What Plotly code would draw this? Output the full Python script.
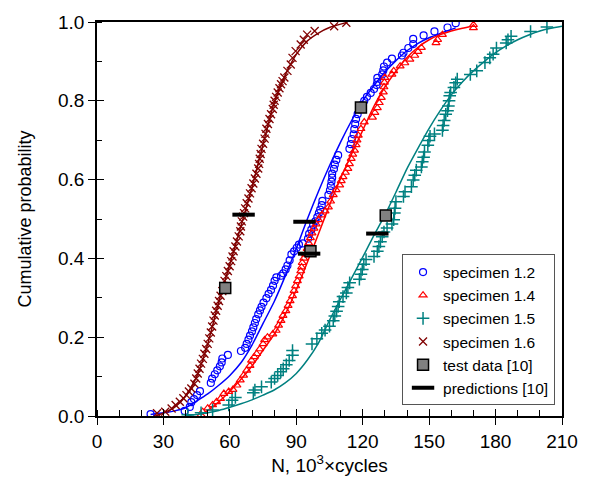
import plotly.graph_objects as go

# ---------------- data ----------------
# specimen 1.2 (blue circles)
x12 = [24.2, 39.6, 41.9, 42.6, 43.8, 45.2, 46.5, 51.4, 52.0, 53.2, 54.3, 55.5, 56.3, 56.6, 59.1,
       65.0, 66.9, 67.6, 68.4, 69.1, 70.0, 70.6, 71.3, 71.9, 72.8, 73.6, 74.3, 75.2, 76.5, 77.5,
       78.6, 79.5, 80.2, 81.0, 83.1, 84.1, 85.2, 86.0, 87.0, 87.8, 89.0, 90.2, 91.2, 93.0, 95.3,
       95.8, 96.8, 97.6, 98.6, 99.5, 100.2, 100.8, 101.5, 101.8, 104.5, 105.2, 105.6, 105.9, 106.2,
       106.2, 107.0, 107.4, 108.1, 108.9, 114.0, 114.6, 115.1, 115.9, 116.2, 116.6, 117.0, 117.7,
       118.5, 119.5, 120.7, 121.9, 123.6, 125.1, 126.3, 126.6, 126.6, 128.8, 129.3, 129.6, 131.0,
       133.2, 137.7, 138.4, 140.6, 142.8, 142.8, 147.5, 152.4, 158.3, 162.0]
y12 = [0.005, 0.013, 0.023, 0.035, 0.043, 0.053, 0.063, 0.084, 0.095, 0.106, 0.116, 0.126, 0.136,
       0.146, 0.155, 0.165, 0.173, 0.183, 0.194, 0.204, 0.215, 0.225, 0.236, 0.246, 0.258, 0.268,
       0.277, 0.288, 0.299, 0.310, 0.320, 0.331, 0.343, 0.352, 0.356, 0.362, 0.372, 0.382, 0.395,
       0.410, 0.418, 0.427, 0.435, 0.438, 0.450, 0.462, 0.473, 0.484, 0.494, 0.505, 0.515, 0.524,
       0.535, 0.546, 0.561, 0.573, 0.584, 0.595, 0.605, 0.615, 0.627, 0.638, 0.650, 0.662, 0.678,
       0.690, 0.703, 0.715, 0.728, 0.741, 0.754, 0.766, 0.778, 0.789, 0.800, 0.810, 0.820, 0.830,
       0.840, 0.848, 0.858, 0.867, 0.877, 0.887, 0.897, 0.907, 0.915, 0.922, 0.934, 0.944, 0.957,
       0.966, 0.976, 0.986, 0.997]
fit12_x = [24.2, 30, 35, 40, 45, 50, 55, 60, 65, 70, 75, 80, 85, 90, 95, 100, 105, 110, 115, 120,
           125, 130, 135, 140, 145, 150, 155, 162]
fit12_y = [0.004, 0.008, 0.013, 0.021, 0.038, 0.056, 0.078, 0.103, 0.135, 0.18, 0.235, 0.29, 0.355,
           0.425, 0.5, 0.57, 0.635, 0.695, 0.75, 0.8, 0.838, 0.873, 0.902, 0.927, 0.946, 0.96,
           0.971, 0.985]

# specimen 1.4 (red triangles)
x14 = [47.0, 47.7, 50.0, 52.2, 54.0, 55.8, 57.3, 59.5, 61.4, 63.2, 64.7, 66.2, 67.6, 69.1, 69.8,
       71.0, 72.1, 73.5, 75.0, 75.7, 77.0, 79.4, 80.9, 82.0, 83.1, 84.0, 85.3, 86.3, 87.2, 88.3,
       89.0, 89.7, 90.5, 91.3, 92.0, 92.4, 92.7, 93.4, 94.2, 94.9, 95.6, 96.4, 97.1, 98.0, 99.0,
       100.0, 101.5, 103.0, 104.5, 105.5, 106.7, 108.0, 109.6, 110.3, 111.1, 112.2, 113.3, 114.0,
       114.8, 115.5, 116.3, 117.0, 117.4, 118.0, 119.2, 120.7, 124.4, 125.5, 126.6, 127.5, 128.4,
       129.3, 129.6, 129.8, 130.0, 133.2, 134.0, 136.9, 139.0, 141.3, 143.5, 145.0, 146.5, 153.1,
       153.8, 156.0, 170.0, 170.0]
y14 = [0.003, 0.011, 0.020, 0.028, 0.036, 0.044, 0.057, 0.062, 0.067, 0.078, 0.091, 0.103, 0.116,
       0.128, 0.141, 0.150, 0.158, 0.170, 0.183, 0.193, 0.200, 0.208, 0.217, 0.230, 0.242, 0.255,
       0.267, 0.280, 0.292, 0.305, 0.318, 0.330, 0.343, 0.355, 0.368, 0.378, 0.389, 0.400, 0.410,
       0.425, 0.439, 0.452, 0.464, 0.476, 0.487, 0.498, 0.510, 0.520, 0.530, 0.545, 0.561, 0.574,
       0.586, 0.597, 0.607, 0.618, 0.628, 0.640, 0.653, 0.664, 0.674, 0.688, 0.700, 0.712, 0.729,
       0.746, 0.758, 0.770, 0.782, 0.795, 0.808, 0.822, 0.835, 0.847, 0.859, 0.867, 0.876, 0.888,
       0.896, 0.905, 0.915, 0.925, 0.935, 0.947, 0.955, 0.968, 0.985, 0.993]
fit14_x = [47, 50, 55, 60, 65, 70, 75, 80, 85, 90, 95, 100, 105, 110, 115, 120, 125, 130, 135,
           140, 145, 150, 155, 160, 165, 170]
fit14_y = [0.003, 0.014, 0.036, 0.063, 0.093, 0.127, 0.167, 0.207, 0.258, 0.32, 0.39, 0.462, 0.535,
           0.603, 0.665, 0.725, 0.785, 0.835, 0.875, 0.91, 0.936, 0.955, 0.968, 0.977, 0.984, 0.99]

# specimen 1.5 (teal plus)
x15 = [41.0, 47.0, 52.2, 59.5, 61.0, 62.5, 70.6, 71.3, 74.3, 78.7, 80.2, 81.6, 83.0, 84.1, 85.5,
       86.8, 88.3, 88.3, 97.1, 99.3, 101.5, 103.0, 105.0, 106.7, 107.4, 108.2, 108.9, 109.4, 111.1,
       112.6, 113.3, 114.1, 118.5, 119.2, 119.8, 120.5, 121.5, 125.1, 126.6, 127.3, 128.0, 128.8,
       129.6, 131.0, 133.2, 134.0, 134.3, 134.6, 135.0, 138.4, 139.1, 142.0, 142.8, 143.5, 144.2,
       146.5, 146.9, 147.5, 147.9, 149.4, 149.9, 150.4, 152.4, 156.0, 156.3, 156.8, 157.5, 158.3,
       158.7, 159.0, 159.3, 159.7, 161.2, 162.0, 162.7, 168.6, 171.5, 175.2, 177.4, 178.9, 180.4,
       184.8, 185.6, 187.0, 195.8, 203.2]
y15 = [0.003, 0.008, 0.015, 0.028, 0.040, 0.047, 0.059, 0.066, 0.074, 0.086, 0.095, 0.103, 0.112,
       0.120, 0.130, 0.141, 0.154, 0.166, 0.183, 0.196, 0.210, 0.218, 0.228, 0.242, 0.254, 0.266,
       0.278, 0.290, 0.303, 0.312, 0.326, 0.338, 0.347, 0.360, 0.372, 0.385, 0.397, 0.405, 0.418,
       0.430, 0.442, 0.455, 0.467, 0.477, 0.487, 0.498, 0.515, 0.527, 0.544, 0.557, 0.569, 0.582,
       0.599, 0.611, 0.624, 0.632, 0.645, 0.657, 0.670, 0.687, 0.699, 0.710, 0.716, 0.725, 0.737,
       0.750, 0.766, 0.775, 0.787, 0.800, 0.813, 0.821, 0.834, 0.846, 0.855, 0.867, 0.876, 0.897,
       0.909, 0.918, 0.934, 0.947, 0.955, 0.964, 0.976, 0.987]
fit15_x = [39.6, 45, 50, 55, 60, 65, 70, 75, 80, 85, 90, 95, 100, 105, 110, 115, 120, 125, 130,
           135, 140, 145, 150, 155, 160, 165, 170, 175, 180, 185, 190, 195, 200, 205, 210]
fit15_y = [0.0, 0.004, 0.008, 0.014, 0.022, 0.031, 0.041, 0.053, 0.066, 0.084, 0.108, 0.142, 0.185,
           0.243, 0.297, 0.35, 0.403, 0.458, 0.51, 0.568, 0.628, 0.68, 0.73, 0.775, 0.815, 0.848,
           0.876, 0.9, 0.922, 0.94, 0.955, 0.967, 0.977, 0.984, 0.989]

# specimen 1.6 (dark red crosses)
x16 = [27.1, 30.8, 33.7, 35.5, 37.4, 39.0, 40.4, 41.5, 42.6, 44.0, 44.8, 45.5, 46.3, 47.0, 47.8,
       48.5, 49.3, 50.0, 50.7, 51.4, 52.0, 52.6, 53.2, 53.8, 54.5, 55.1, 55.8, 56.6, 57.1, 57.6,
       58.4, 59.1, 59.9, 60.6, 61.2, 61.7, 62.5, 63.2, 64.0, 64.7, 65.0, 65.4, 66.0, 66.4, 66.9,
       67.6, 68.4, 69.1, 69.8, 70.6, 71.3, 72.0, 72.8, 73.2, 73.5, 73.9, 74.3, 75.0, 75.7, 76.1,
       76.5, 77.2, 77.9, 78.6, 79.4, 79.8, 80.2, 80.9, 81.6, 82.4, 83.1, 83.8, 84.6, 86.0, 87.5,
       88.3, 89.7, 92.0, 93.4, 94.9, 98.3, 107.1, 112.6]
y16 = [0.007, 0.011, 0.019, 0.028, 0.036, 0.045, 0.053, 0.062, 0.070, 0.082, 0.095, 0.108, 0.120,
       0.133, 0.145, 0.158, 0.170, 0.183, 0.197, 0.212, 0.227, 0.242, 0.255, 0.267, 0.280, 0.292,
       0.305, 0.317, 0.330, 0.343, 0.355, 0.368, 0.380, 0.393, 0.405, 0.418, 0.430, 0.443, 0.456,
       0.469, 0.481, 0.494, 0.506, 0.515, 0.527, 0.540, 0.552, 0.565, 0.578, 0.590, 0.603, 0.615,
       0.628, 0.640, 0.653, 0.665, 0.678, 0.691, 0.704, 0.716, 0.729, 0.741, 0.754, 0.766, 0.779,
       0.790, 0.800, 0.810, 0.821, 0.832, 0.842, 0.850, 0.859, 0.876, 0.892, 0.909, 0.926, 0.943,
       0.955, 0.968, 0.977, 0.989, 0.998]
fit16_x = [26.4, 30, 35, 40, 45, 50, 55, 60, 65, 70, 75, 80, 85, 90, 95, 100, 105, 113]
fit16_y = [0.0, 0.008, 0.022, 0.05, 0.1, 0.183, 0.29, 0.385, 0.482, 0.58, 0.69, 0.795, 0.865,
           0.918, 0.952, 0.972, 0.986, 0.999]

# test data [10] and predictions [10]
test_x = [57.9, 96.4, 119.2, 130.4]
test_y = [0.325, 0.418, 0.783, 0.509]
pred_x = [66.2, 93.7, 95.8, 126.6]
pred_y = [0.511, 0.493, 0.412, 0.463]

# ---------------- styling ----------------
C12, C14, C15, C16 = "#0000FF", "#FF0000", "#008080", "#800000"
FONT = "Liberation Sans, Arial, Helvetica, sans-serif"

fig = go.Figure()

def add_spec(xs, ys, fx, fy, color, symbol, size, name, lw=1.2):
    fig.add_trace(go.Scatter(x=fx, y=fy, mode="lines",
                             line=dict(color=color, width=1.5, shape="spline", smoothing=0.6),
                             showlegend=False, hoverinfo="skip"))
    fig.add_trace(go.Scatter(x=xs, y=ys, mode="markers", name=name,
                             marker=dict(symbol=symbol, size=size, color=color,
                                         line=dict(color=color, width=lw))))

add_spec(x12, y12, fit12_x, fit12_y, C12, "circle-open", 7, "specimen 1.2")
add_spec(x14, y14, fit14_x, fit14_y, C14, "triangle-up-open", 7, "specimen 1.4")
add_spec(x15, y15, fit15_x, fit15_y, C15, "cross-thin", 9, "specimen 1.5", 1.5)
add_spec(x16, y16, fit16_x, fit16_y, C16, "x-thin", 8, "specimen 1.6", 1.3)

fig.add_trace(go.Scatter(x=test_x, y=test_y, mode="markers", name="test data [10]",
                         marker=dict(symbol="square", size=11, color="#808080",
                                     line=dict(color="black", width=1.5))))
fig.add_trace(go.Scatter(x=pred_x, y=pred_y, mode="markers", name="predictions [10]",
                         marker=dict(symbol="line-ew", size=16, color="black",
                                     line=dict(color="black", width=4))))

# invisible traces for the inner halves of the major ticks
fig.add_trace(go.Scatter(x=[], y=[], xaxis="x2", yaxis="y", showlegend=False, hoverinfo="skip"))
fig.add_trace(go.Scatter(x=[], y=[], xaxis="x", yaxis="y2", showlegend=False, hoverinfo="skip"))

axis_common = dict(showgrid=False, zeroline=False, showline=True, linecolor="black", linewidth=1.5,
                   mirror=True, ticks="outside", ticklen=7, tickwidth=1.3, tickcolor="black",
                   tickfont=dict(family=FONT, size=19, color="black"))

fig.update_layout(
    width=590, height=493,
    margin=dict(l=97, r=18, t=19, b=77),
    paper_bgcolor="white", plot_bgcolor="white",
    font=dict(family=FONT, size=16, color="black"),
    xaxis=dict(range=[0, 210], tick0=0, dtick=30,
               minor=dict(dtick=10, ticks="inside", ticklen=6, tickwidth=1.2, tickcolor="black"),
               title=dict(text="N, 10<sup>3</sup>×cycles", font=dict(family=FONT, size=19), standoff=8),
               **axis_common),
    yaxis=dict(range=[0, 1.0], tick0=0, dtick=0.2, tickformat=".1f",
               minor=dict(dtick=0.1, ticks="inside", ticklen=5, tickwidth=1.2, tickcolor="black"),
               title=dict(text="Cumulative probability", font=dict(family=FONT, size=18), standoff=22),
               **axis_common),
    xaxis2=dict(overlaying="x", anchor="y", side="bottom", range=[0, 210], tick0=0, dtick=30,
                ticks="inside", ticklen=7, tickwidth=1.3, tickcolor="black", showticklabels=False,
                showline=False, showgrid=False, zeroline=False),
    yaxis2=dict(overlaying="y", anchor="x", side="left", range=[0, 1.0], tick0=0, dtick=0.2,
                ticks="inside", ticklen=7, tickwidth=1.3, tickcolor="black", showticklabels=False,
                showline=False, showgrid=False, zeroline=False),
    legend=dict(x=0.656, y=0.41, xanchor="left", yanchor="top", bgcolor="white",
                bordercolor="#555555", borderwidth=1, font=dict(family=FONT, size=15.5, color="black"),
                itemwidth=30, tracegroupgap=0),
)

fig.write_html("out.html")
